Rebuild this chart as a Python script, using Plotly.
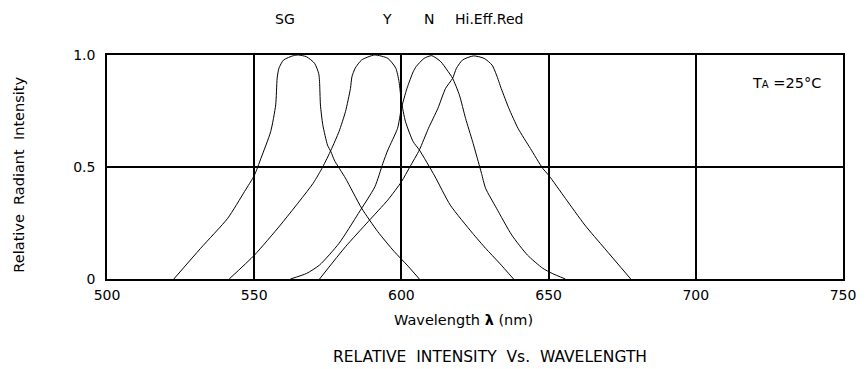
import plotly.graph_objects as go

# Wavelength (nm) / relative intensity
SG_x = [522.7, 531.8, 541.0, 546.7, 550.1, 552.3, 555.6, 557.3, 557.8, 558.4, 560.0, 563.3, 565.0,
        567.8, 570.5, 571.9, 572.2, 572.5, 573.3, 574.9, 576.1, 577.2, 581.0, 586.5, 592.0, 597.6,
        601.9, 606.1]
SG_y = [0, 0.137, 0.271, 0.390, 0.464, 0.539, 0.658, 0.777, 0.896, 0.941, 0.978, 0.997, 1.0,
        0.992, 0.963, 0.918, 0.881, 0.777, 0.688, 0.598, 0.567, 0.531, 0.450, 0.316, 0.211, 0.122,
        0.0625, 0]

Y_x = [541.5, 550.1, 558.9, 570.0, 573.3, 576.1, 578.8, 581.0, 582.7, 583.2, 584.3, 586.5,
       590.9, 595.4, 598.1, 599.2, 600.0, 601.4, 604.0, 606.1, 611.3, 616.6, 624.2, 628.6, 633.3,
       638.1]
Y_y = [0, 0.107, 0.241, 0.427, 0.501, 0.576, 0.658, 0.747, 0.851, 0.903, 0.941, 0.978,
       1.0, 0.985, 0.941, 0.881, 0.792, 0.702, 0.613, 0.576, 0.460, 0.330, 0.204, 0.137, 0.071, 0]

N_x = [562.3, 567.8, 572.2, 578.8, 585.4, 591.0, 593.7, 595.4, 598.7, 600.0, 601.9, 604.0, 605.0,
       607.7, 610.3, 613.4, 615.5, 617.4, 619.7, 621.8, 624.2, 626.1, 627.2, 628.6, 632.3, 637.5,
       642.8, 648.0, 651.2, 655.7]
N_y = [0, 0.025, 0.0625, 0.159, 0.293, 0.412, 0.516, 0.576, 0.673, 0.762, 0.851, 0.925, 0.948,
       0.985, 0.997, 0.970, 0.933, 0.896, 0.821, 0.717, 0.613, 0.524, 0.472, 0.405, 0.316, 0.196,
       0.107, 0.048, 0.025, 0]

RED_x = [572.2, 581.0, 588.7, 595.4, 600.0, 602.9, 606.1, 609.2, 612.4, 615.0, 617.4, 618.7, 620.8,
         624.5, 628.1, 630.8, 632.3, 633.9, 636.5, 639.6, 643.8, 648.0, 650.1, 655.7, 662.3, 669.0,
         677.9]
RED_y = [0, 0.144, 0.256, 0.353, 0.434, 0.501, 0.576, 0.673, 0.762, 0.851, 0.896, 0.941, 0.978,
         0.996, 0.985, 0.955, 0.911, 0.851, 0.762, 0.673, 0.583, 0.494, 0.462, 0.360, 0.241, 0.137,
         0]

X_TICKS = [500, 550, 600, 650, 700, 750]
X_TICK_TEXT = ["500", "550", "600", "650", "700", "750"]
Y_TICKS = [0, 0.5, 1.0]
Y_TICK_TEXT = ["0", "0.5", "1.0"]

SERIES_LABELS = ["SG", "Y", "N", "Hi.Eff.Red"]

FONT = "DejaVu Sans"

fig = go.Figure()
for xs, ys, name in [(SG_x, SG_y, "SG"), (Y_x, Y_y, "Y"), (N_x, N_y, "N"), (RED_x, RED_y, "Hi.Eff.Red")]:
    fig.add_trace(go.Scatter(x=xs, y=ys, mode="lines", name=name,
                             line=dict(color="black", width=1, shape="spline", smoothing=0.6),
                             showlegend=False, hoverinfo="skip"))

# page body has an 8px default margin, so the figure is sized/offset to compensate
fig.update_layout(
    width=858, height=361,
    margin=dict(l=99, r=10, t=47, b=90),
    paper_bgcolor="white", plot_bgcolor="white",
    font=dict(family=FONT, size=14, color="black"),
)
fig.update_xaxes(range=[500, 750], tickvals=X_TICKS, ticktext=X_TICK_TEXT,
                 showgrid=True, gridcolor="black", gridwidth=1.5,
                 showline=True, mirror=True, linecolor="black", linewidth=1.5,
                 ticks="", zeroline=False, tickfont=dict(size=14), ticklabelstandoff=2,
                 ticklabeloverflow="allow")
fig.update_yaxes(range=[0, 1.0], tickvals=Y_TICKS, ticktext=Y_TICK_TEXT,
                 showgrid=True, gridcolor="black", gridwidth=1.5,
                 showline=True, mirror=True, linecolor="black", linewidth=1.5,
                 ticks="", zeroline=False, tickfont=dict(size=14), ticklabelstandoff=7)

ann = [
    dict(text="Wavelength <b>λ</b> (nm)", x=0.4846, y=-0.183, size=14.5),
    dict(text="RELATIVE  INTENSITY  Vs.  WAVELENGTH", x=0.5207, y=-0.348, size=15.5),
    dict(text="Relative  Radiant  Intensity", x=-0.1188, y=0.464, textangle=-90, size=14.5),
    dict(text=SERIES_LABELS[0], x=0.2417, y=1.162, size=14),
    dict(text=SERIES_LABELS[1], x=0.380, y=1.162, size=14),
    dict(text=SERIES_LABELS[2], x=0.4379, y=1.162, size=14),
    dict(text=SERIES_LABELS[3], x=0.519, y=1.162, size=14),
    dict(text="T<span style='font-size:10px'>A</span> =25°C", x=0.9226, y=0.875, size=14.5),
]
for a in ann:
    size = a.pop("size")
    fig.add_annotation(xref="paper", yref="paper", showarrow=False,
                       xanchor="center", yanchor="middle", font=dict(size=size), **a)

fig.write_html("out.html")
